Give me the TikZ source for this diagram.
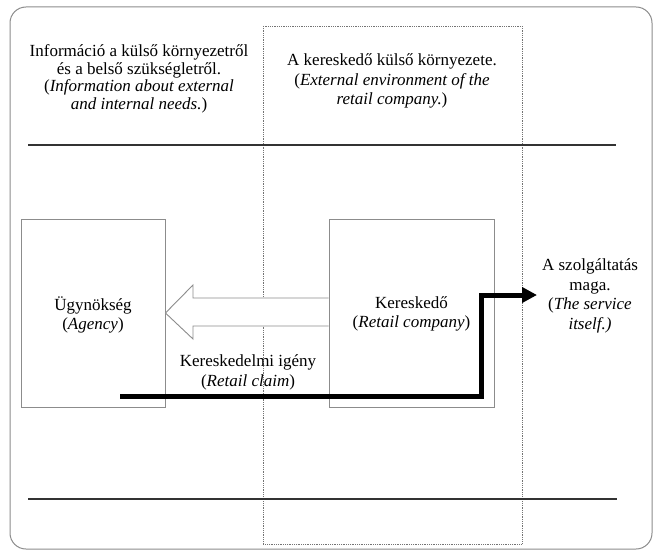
\documentclass[tikz,border=0pt]{standalone}
\usepackage{fontspec}
\setmainfont{Liberation Serif}
\usetikzlibrary{arrows.meta}
\begin{document}
\begin{tikzpicture}[x=1pt,y=-1pt,
  txt/.style={align=center,font=\fontsize{17}{19.5}\selectfont,inner sep=0pt},
  txtl/.style={align=center,font=\fontsize{17}{17.5}\selectfont,inner sep=0pt},
  graybox/.style={draw=black!45,line width=0.9pt},
  hline/.style={draw=black!80,line width=1.3pt},
  thick arrow/.style={line width=5pt,-{Triangle[length=15pt,width=15pt]}}
]
\useasboundingbox (0,0) rectangle (655,553);
\fill[white] (0,0) rectangle (655,553);
% outer frame
\draw[draw=black!45,line width=1pt,rounded corners=16pt] (10,7) rectangle (652,549);
% dotted environment rectangle
\draw[draw=black!55,densely dotted,line width=0.8pt] (263,26) rectangle (522,544);
% horizontal lines
\coordinate (l1a) at (28,145); \coordinate (l1b) at (616,145);
\coordinate (l2a) at (28,499); \coordinate (l2b) at (617,499);
\draw[hline] (l1a) -- (l1b);
\draw[hline] (l2a) -- (l2b);
% boxes
\node[graybox,minimum width=144pt,minimum height=188pt,inner sep=0pt] (agency) at (93,313) {};
\node[graybox,minimum width=165pt,minimum height=188pt,inner sep=0pt] (retail) at (411.5,313) {};
\node[txt] (agencyt) at (93,315) {Ügynökség\\(\textit{Agency})};
\node[txt] (retailt) at (411.5,314) {Kereskedő\\(\textit{Retail company})};
% hollow arrow from retail to agency
\draw[graybox,fill=white] (retail.west |- 0,298) -- (193,298) -- (193,285) -- (agency.east |- 0,313) -- (193,339) -- (193,326) -- (retail.west |- 0,326);
% texts
\node[txtl] (info) at (139,79) {Információ a külső környezetről\\és a belső szükségletről.\\(\textit{Information about external}\\\textit{and internal needs.})};
\node[txt] (env) at (392,81) {A kereskedő külső környezete.\\(\textit{External environment of the}\\\textit{retail company.})};
\node[txt] (claim) at (248,372.5) {Kereskedelmi igény\\(\textit{Retail claim})};
\node[txt] (service) at (590,296) {A szolgáltatás\\maga.\\(\textit{The service}\\\textit{itself.)}};
% thick service arrow
\coordinate (s0) at (120,396);
\coordinate (s1) at (481,396);
\coordinate (s2) at (481,295);
\coordinate (s3) at (537,295);
\draw[thick arrow] (s0) -- (s1) -- (s2) -- (s3);
\end{tikzpicture}
\end{document}
